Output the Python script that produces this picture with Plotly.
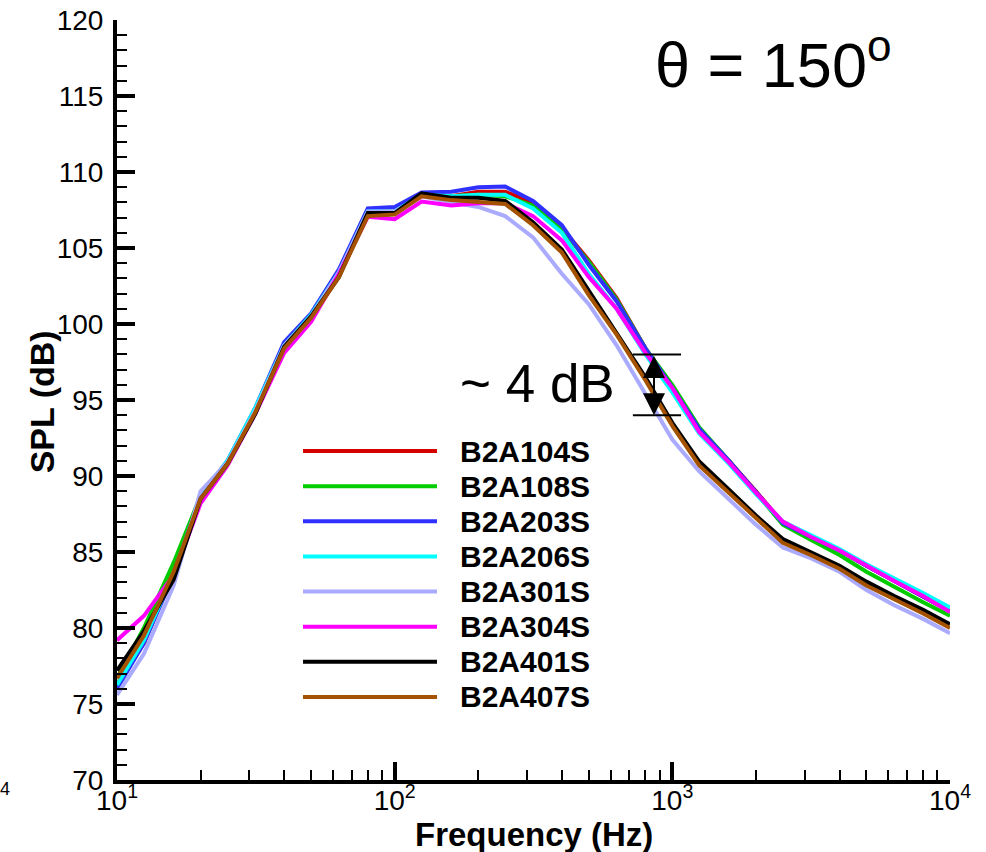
import numpy as np
import plotly.graph_objects as go

freq = [10, 12.5, 16, 20, 25, 31.5, 40, 50, 63, 80, 100, 125, 160, 200, 250, 315, 400,
        500, 630, 800, 1000, 1250, 1600, 2000, 2500, 3150, 4000, 5000, 6300, 8000, 10000]

names = ["B2A104S", "B2A108S", "B2A203S", "B2A206S", "B2A301S", "B2A304S", "B2A401S", "B2A407S"]

spl_104 = [76.3, 79.0, 83.7, 88.6, 90.9, 94.3, 98.5, 100.5, 103.4, 107.4, 107.4, 108.5, 108.4, 108.7, 108.7,
           108.0, 106.3, 104.2, 101.7, 98.4, 95.9, 93.1, 91.0, 89.0, 86.9, 86.0, 85.1, 84.1, 83.1, 82.1, 81.1]
spl_108 = [76.7, 80.0, 84.3, 88.7, 90.9, 94.3, 98.5, 100.5, 103.3, 107.3, 107.3, 108.5, 108.4, 108.5, 108.4,
           107.8, 106.2, 104.1, 101.6, 98.4, 96.0, 93.2, 91.0, 88.9, 86.8, 85.8, 84.8, 83.7, 82.7, 81.7, 80.8]
spl_203 = [76.0, 79.0, 83.5, 88.7, 91.0, 94.5, 98.8, 100.7, 103.6, 107.6, 107.7, 108.65, 108.7, 109.0, 109.05,
           108.1, 106.5, 103.9, 101.5, 98.4, 95.8, 93.1, 91.0, 88.9, 86.9, 86.0, 85.1, 84.1, 83.1, 82.1, 81.1]
spl_206 = [76.25, 79.2, 83.6, 88.6, 91.0, 94.5, 98.6, 100.6, 103.4, 107.4, 107.4, 108.5, 108.4, 108.5, 108.5,
           107.6, 106.0, 103.3, 101.0, 98.0, 95.5, 92.8, 90.8, 88.8, 87.0, 86.1, 85.2, 84.2, 83.3, 82.3, 81.35]
spl_301 = [75.6, 78.3, 82.8, 89.0, 90.9, 94.3, 98.6, 100.5, 103.4, 107.4, 107.4, 108.4, 108.0, 107.7, 107.1,
           105.7, 103.3, 101.3, 98.6, 95.4, 92.4, 90.3, 88.5, 86.8, 85.3, 84.6, 83.7, 82.5, 81.5, 80.6, 79.65]
spl_304 = [79.2, 80.8, 83.5, 88.2, 90.7, 94.1, 98.1, 100.15, 103.3, 107.05, 106.9, 108.05, 107.8, 107.95, 107.95,
           107.1, 105.5, 103.1, 101.0, 98.1, 95.8, 92.9, 90.9, 88.9, 87.0, 86.0, 85.1, 84.1, 83.1, 82.1, 81.05]
spl_401 = [77.2, 79.8, 83.2, 88.5, 90.8, 94.1, 98.5, 100.5, 103.1, 107.3, 107.3, 108.6, 108.3, 108.3, 108.1,
           106.7, 104.9, 102.2, 99.5, 96.5, 93.5, 90.95, 89.1, 87.4, 85.85, 85.0, 84.1, 83.05, 82.1, 81.2, 80.25]
spl_407 = [76.7, 79.5, 83.7, 88.5, 90.8, 94.2, 98.4, 100.4, 103.1, 107.1, 107.2, 108.4, 108.15, 108.05, 107.9,
           106.5, 104.7, 101.9, 99.3, 96.3, 93.3, 90.7, 88.9, 87.2, 85.6, 84.8, 83.9, 82.8, 81.9, 80.95, 80.0]

series = [spl_104, spl_108, spl_203, spl_206, spl_301, spl_304, spl_401, spl_407]
colors = ["#d40000", "#00cc00", "#3030ff", "#00ffff", "#aaaaff", "#ff00ff", "#000000", "#a45200"]

x_tickvals = [10, 100, 1000, 10000]
x_ticktext = ["10<sup>1</sup>", "10<sup>2</sup>", "10<sup>3</sup>", "10<sup>4</sup>"]
x_minor = [m * 10 ** d for d in range(1, 4) for m in range(2, 10)]

# "~ 4 dB" marker: levels and frequency span
gap_levels = [98, 94]
gap_span = [721, 1075]
gap_arrow_f = 859

FONT = "Liberation Sans, Arial, sans-serif"

fig = go.Figure()
for name, ys, c in zip(names, series, colors):
    fig.add_trace(go.Scatter(x=freq, y=ys, mode="lines", name=name,
                             line=dict(color=c, width=4), showlegend=False))

for lv in gap_levels:
    fig.add_trace(go.Scatter(x=gap_span, y=[lv, lv], mode="lines",
                             line=dict(color="black", width=2), showlegend=False, hoverinfo="skip"))

annotations = []
annotations.append(dict(x=np.log10(gap_arrow_f), y=gap_levels[1], ax=np.log10(gap_arrow_f), ay=gap_levels[0],
                        xref="x", yref="y", axref="x", ayref="y", text="", showarrow=True,
                        arrowhead=2, arrowside="end+start", arrowsize=2.2, arrowwidth=2, arrowcolor="black",
                        standoff=0, startstandoff=0))
annotations.append(dict(x=np.log10(632), y=96.1, xref="x", yref="y", text="~ 4 dB", showarrow=False,
                        xanchor="right", yanchor="middle", font=dict(family=FONT, size=53, color="black")))
annotations.append(dict(x=0.644, y=0.947, xref="paper", yref="paper", text="θ = 150<sup>o</sup>",
                        showarrow=False, xanchor="left", yanchor="middle",
                        font=dict(family=FONT, size=63, color="black")))
annotations.append(dict(x=0.5, y=-0.072, xref="paper", yref="paper", text="<b>Frequency (Hz)</b>",
                        showarrow=False, xanchor="center", yanchor="middle",
                        font=dict(family=FONT, size=33, color="black")))
annotations.append(dict(x=-0.09, y=0.497, xref="paper", yref="paper", text="<b>SPL (dB)</b>",
                        showarrow=False, xanchor="center", yanchor="middle", textangle=-90,
                        font=dict(family=FONT, size=34, color="black")))
# stray fragment at left edge
annotations.append(dict(x=-0.135, y=-0.012, xref="paper", yref="paper", text="4", showarrow=False,
                        xanchor="center", yanchor="middle",
                        font=dict(family=FONT, size=18, color="black")))

# manual legend
L, R, T, B = 117, 950, 20, 780
W, H = R - L, B - T
shapes = []
for i, (name, c) in enumerate(zip(names, colors)):
    py = 451 + i * 35.14
    yp = (B - py) / H
    shapes.append(dict(type="line", xref="paper", yref="paper",
                       x0=(303 - L) / W, x1=(437 - L) / W, y0=yp, y1=yp,
                       line=dict(color=c, width=4)))
    annotations.append(dict(x=(458 - L) / W, y=yp, xref="paper", yref="paper", text="<b>%s</b>" % name,
                            showarrow=False, xanchor="left", yanchor="middle",
                            font=dict(family=FONT, size=30, color="black")))

fig.update_layout(
    width=986, height=852,
    margin=dict(l=L, r=986 - R, t=T, b=852 - B, autoexpand=False),
    paper_bgcolor="white", plot_bgcolor="white",
    font=dict(family=FONT, color="black"),
    showlegend=False,
    shapes=shapes,
    annotations=annotations,
    xaxis=dict(type="log", range=[1, 4], showgrid=False, zeroline=False,
               showline=True, linewidth=4, linecolor="black", mirror=False,
               ticks="inside", ticklen=18, tickwidth=3.5, tickcolor="black",
               tickvals=x_tickvals, ticktext=x_ticktext, ticklabelstandoff=-8,
               tickfont=dict(family=FONT, size=28, color="black"),
               minor=dict(tickvals=x_minor, ticks="inside", ticklen=10, tickwidth=1.5, tickcolor="black")),
    yaxis=dict(range=[70, 120], showgrid=False, zeroline=False,
               showline=True, linewidth=4, linecolor="black", mirror=False,
               ticks="inside", ticklen=18, tickwidth=3.5, tickcolor="black",
               tick0=70, dtick=5, ticklabelstandoff=4,
               tickfont=dict(family=FONT, size=28, color="black"),
               minor=dict(dtick=1, ticks="inside", ticklen=10, tickwidth=1.5, tickcolor="black")),
)

fig.write_html("out.html")
